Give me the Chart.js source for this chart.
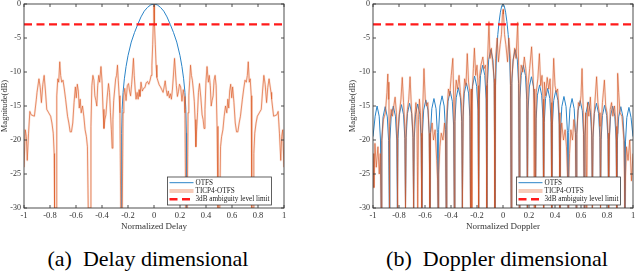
<!DOCTYPE html>
<html>
<head>
<meta charset="utf-8">
<script src="https://cdn.jsdelivr.net/npm/chart.js@4/dist/chart.umd.min.js"></script>
<style>
  html, body { margin: 0; padding: 0; background: #fff; }
  body { width: 636px; height: 276px; position: relative; overflow: hidden; font-family: "Liberation Serif", "Times New Roman", serif; }
  canvas { position: absolute; top: 0; }
  #c1 { left: 0; }
  #c2 { left: 318px; }
  .cap { position: absolute; top: 248px; font-family: "Liberation Serif", "Times New Roman", "DejaVu Serif", serif; font-size: 22px; line-height: 22px; color: #000; white-space: nowrap; transform: translateX(-50%); }
</style>
</head>
<body>
<canvas id="c1" width="318" height="240"></canvas>
<canvas id="c2" width="318" height="240"></canvas>
<div class="cap" style="left:148px">(a)&nbsp; Delay dimensional</div>
<div class="cap" style="left:497px">(b)&nbsp; Doppler dimensional</div>
<script>
// ---------------- data ----------------
const seriesNames = ['OTFS', 'TICP4-OTFS', '3dB ambiguity level limit'];
const xTitles = ['Normalized Delay', 'Normalized Doppler'];
const yTitle = 'Magnitude(dB)';
const xTicks = [-1, -0.8, -0.6, -0.4, -0.2, 0, 0.2, 0.4, 0.6, 0.8, 1];
const xTickLabels = ['-1', '-0.8', '-0.6', '-0.4', '-0.2', '0', '0.2', '0.4', '0.6', '0.8', '1'];
const yTicks = [-30, -25, -20, -15, -10, -5, 0];
const yTickLabels = ['-30', '-25', '-20', '-15', '-10', '-5', '0'];
const limitLine = [[-1, -3], [1, -3]];

// (a) Delay: OTFS
const delayOtfs = [
  [-0.2505,-30],[-0.249,-19],[-0.245,-15.5],[-0.238,-13],[-0.228,-11],[-0.215,-9.2],[-0.2,-7.6],
  [-0.175,-5.6],[-0.15,-4.2],[-0.125,-3.0],[-0.1,-1.9],[-0.075,-1.05],[-0.05,-0.5],[-0.025,-0.13],[0,0],
  [0.025,-0.13],[0.05,-0.5],[0.075,-1.05],[0.1,-1.9],[0.125,-3.0],[0.15,-4.2],[0.175,-5.6],[0.2,-7.6],
  [0.215,-9.2],[0.228,-11],[0.238,-13],[0.245,-15.5],[0.249,-19],[0.2505,-30]
];
// (a) Delay: TICP4-OTFS
const delayTicp = [
  [-1,-24],[-0.99,-18.5],[-0.982,-19.5],[-0.975,-23],[-0.965,-19],[-0.955,-15.8],[-0.945,-16.3],[-0.92,-16.5],
  [-0.905,-14],[-0.9,-13],[-0.885,-11],[-0.875,-12.3],[-0.866,-14.5],[-0.855,-11.8],[-0.845,-10.5],[-0.835,-12.8],
  [-0.825,-15.5],[-0.81,-16],[-0.795,-16.5],[-0.785,-17.5],[-0.775,-19],[-0.768,-22],[-0.765,-30],[-0.752,-30],
  [-0.748,-13.5],[-0.74,-11],[-0.733,-11.5],[-0.725,-8.5],[-0.718,-10.5],[-0.71,-11.5],[-0.7,-11.2],[-0.69,-12.5],
  [-0.68,-14],[-0.665,-16.5],[-0.655,-17.5],[-0.645,-18.8],[-0.635,-18.8],[-0.625,-17.5],[-0.615,-14.5],[-0.605,-12.2],
  [-0.598,-13.8],[-0.59,-11.8],[-0.582,-12.8],[-0.575,-15.3],[-0.568,-14],[-0.56,-16],[-0.55,-15],[-0.54,-16.5],
  [-0.53,-18.5],[-0.52,-19.5],[-0.512,-21],[-0.506,-30],[-0.492,-30],[-0.485,-18],[-0.478,-12],[-0.47,-10.5],
  [-0.462,-11.2],[-0.455,-13.5],[-0.447,-14.2],[-0.44,-15],[-0.433,-12],[-0.425,-10.5],[-0.418,-11.5],[-0.408,-9.2],
  [-0.4,-11.3],[-0.392,-15.5],[-0.385,-18.3],[-0.378,-17],[-0.37,-16.3],[-0.36,-13.7],[-0.35,-11.7],[-0.342,-13],
  [-0.335,-16],[-0.328,-18.5],[-0.322,-21.2],[-0.316,-17],[-0.31,-14.2],[-0.302,-12.5],[-0.295,-11],[-0.288,-10.5],
  [-0.281,-9],[-0.275,-11.2],[-0.268,-13.5],[-0.262,-16],[-0.256,-30],[-0.244,-30],[-0.238,-16],[-0.232,-13.5],
  [-0.225,-12.4],[-0.215,-14.2],[-0.205,-12],[-0.196,-11.7],[-0.188,-12.8],[-0.18,-13.5],[-0.172,-11.8],[-0.165,-10],
  [-0.158,-8],[-0.152,-10.5],[-0.145,-12.5],[-0.138,-14],[-0.13,-13],[-0.122,-14],[-0.115,-12.6],[-0.108,-13.6],
  [-0.1,-11.5],[-0.09,-12.8],[-0.08,-12.4],[-0.07,-12.3],[-0.06,-11.6],[-0.05,-11.4],[-0.04,-11.8],[-0.03,-11.2],
  [-0.022,-10.5],[-0.016,-9],[-0.01,-6],[-0.006,-3.2],[-0.002,-0.8],[0,-0.1],
  [0.002,-0.8],[0.006,-3.2],[0.01,-6],[0.016,-9],[0.022,-10.8],[0.03,-11.3],[0.04,-11.9],[0.05,-12.2],
  [0.06,-12.6],[0.07,-13],[0.078,-12.2],[0.086,-11.3],[0.094,-12.6],[0.102,-13.5],[0.11,-12.8],[0.118,-13.8],
  [0.126,-13.2],[0.134,-14],[0.142,-12.5],[0.15,-10.3],[0.158,-8],[0.165,-10],[0.172,-12],[0.18,-13.6],
  [0.188,-12.9],[0.196,-11.8],[0.205,-12.2],[0.215,-14.3],[0.225,-12.6],[0.232,-13.6],[0.238,-16],[0.244,-30],
  [0.256,-30],[0.262,-16],[0.268,-13.4],[0.275,-11.2],[0.281,-9],[0.288,-10.5],[0.295,-11.2],[0.302,-12.5],
  [0.31,-14.3],[0.316,-17],[0.322,-21],[0.328,-18.5],[0.335,-16],[0.342,-13],[0.35,-11.7],[0.36,-13.7],
  [0.37,-16.3],[0.378,-17],[0.385,-18.3],[0.392,-15.5],[0.4,-11.3],[0.408,-9.2],[0.418,-11.5],[0.425,-10.5],
  [0.433,-12],[0.44,-15],[0.447,-14.2],[0.455,-13.5],[0.462,-11.2],[0.47,-10.5],[0.478,-12],[0.485,-18],
  [0.492,-30],[0.506,-30],[0.512,-21],[0.52,-19.5],[0.53,-18.5],[0.54,-16.5],[0.55,-15],[0.56,-16],
  [0.568,-14],[0.575,-15.3],[0.582,-12.8],[0.59,-11.8],[0.598,-13.8],[0.605,-12.2],[0.615,-14.5],[0.625,-17.5],
  [0.635,-18.8],[0.645,-18.8],[0.655,-17.5],[0.665,-16.5],[0.68,-14],[0.69,-12.5],[0.7,-11.2],[0.71,-11.5],
  [0.718,-10.5],[0.725,-8.5],[0.733,-11.5],[0.74,-11],[0.748,-13.5],[0.752,-30],[0.765,-30],[0.768,-22],
  [0.775,-19],[0.785,-17.5],[0.795,-16.5],[0.81,-16],[0.825,-15.5],[0.835,-12.8],[0.845,-10.5],[0.855,-11.8],
  [0.866,-14.5],[0.875,-12.3],[0.885,-11],[0.9,-13],[0.905,-14],[0.92,-16.5],[0.945,-16.3],[0.955,-15.8],
  [0.965,-19],[0.975,-23],[0.982,-19.5],[0.99,-18.5],[1,-24]
];

// (b) Doppler: OTFS
const dopplerOtfs = [
  [-1,-19.5],[-0.9835,-16.5],[-0.96875,-15],[-0.9525,-16.5],[-0.9425,-20],[-0.9375,-30],
  [-0.9325,-20.1],[-0.9225,-16.6],[-0.90625,-15.1],[-0.89,-16.6],[-0.88,-20.1],[-0.875,-30],
  [-0.87,-20],[-0.86,-16.5],[-0.84375,-15],[-0.8275,-16.5],[-0.8175,-20],[-0.8125,-30],
  [-0.8075,-19.8],[-0.7975,-16.3],[-0.78125,-14.8],[-0.765,-16.3],[-0.755,-19.8],[-0.75,-30],
  [-0.745,-19.6],[-0.735,-16.1],[-0.71875,-14.6],[-0.7025,-16.1],[-0.6925,-19.6],[-0.6875,-30],
  [-0.6825,-19.7],[-0.6725,-16.2],[-0.65625,-14.7],[-0.64,-16.2],[-0.63,-19.7],[-0.625,-30],
  [-0.62,-19.1],[-0.61,-15.6],[-0.59375,-14.1],[-0.5775,-15.6],[-0.5675,-19.1],[-0.5625,-30],
  [-0.5575,-18.9],[-0.5475,-15.4],[-0.53125,-13.9],[-0.515,-15.4],[-0.505,-18.9],[-0.5,-30],
  [-0.495,-18.5],[-0.485,-15],[-0.46875,-13.5],[-0.4525,-15],[-0.4425,-18.5],[-0.4375,-30],
  [-0.4325,-17.8],[-0.4225,-14.3],[-0.40625,-12.8],[-0.39,-14.3],[-0.38,-17.8],[-0.375,-30],
  [-0.37,-17.3],[-0.36,-13.8],[-0.34375,-12.3],[-0.3275,-13.8],[-0.3175,-17.3],[-0.3125,-30],
  [-0.3075,-16.6],[-0.2975,-13.1],[-0.28125,-11.6],[-0.265,-13.1],[-0.255,-16.6],[-0.25,-30],
  [-0.245,-15.6],[-0.235,-12.1],[-0.21875,-10.6],[-0.2025,-12.1],[-0.1925,-15.6],[-0.1875,-30],
  [-0.1825,-14],[-0.1725,-10.5],[-0.15625,-9],[-0.14,-10.5],[-0.13,-14],[-0.125,-30],
  [-0.12,-11.7],[-0.11,-8.2],[-0.09375,-6.7],[-0.0775,-8.2],[-0.0675,-11.7],[-0.0625,-30],
  [-0.0575,-12],[-0.05,-7.5],[-0.04,-4.5],[-0.03,-2.6],[-0.02,-1.2],[-0.01,-0.3],[0,0],
  [0.01,-0.3],[0.02,-1.2],[0.03,-2.6],[0.04,-4.5],[0.05,-7.5],[0.0575,-12],[0.0625,-30],
  [0.0675,-11.7],[0.0775,-8.2],[0.09375,-6.7],[0.11,-8.2],[0.12,-11.7],[0.125,-30],
  [0.13,-14],[0.14,-10.5],[0.15625,-9],[0.1725,-10.5],[0.1825,-14],[0.1875,-30],
  [0.1925,-15.7],[0.2025,-12.2],[0.21875,-10.7],[0.235,-12.2],[0.245,-15.7],[0.25,-30],
  [0.255,-16.9],[0.265,-13.4],[0.28125,-11.9],[0.2975,-13.4],[0.3075,-16.9],[0.3125,-30],
  [0.3175,-17.4],[0.3275,-13.9],[0.34375,-12.4],[0.36,-13.9],[0.37,-17.4],[0.375,-30],
  [0.38,-17.7],[0.39,-14.2],[0.40625,-12.7],[0.4225,-14.2],[0.4325,-17.7],[0.4375,-30],
  [0.4425,-18.6],[0.4525,-15.1],[0.46875,-13.6],[0.485,-15.1],[0.495,-18.6],[0.5,-30],
  [0.505,-18.9],[0.515,-15.4],[0.53125,-13.9],[0.5475,-15.4],[0.5575,-18.9],[0.5625,-30],
  [0.5675,-19.2],[0.5775,-15.7],[0.59375,-14.2],[0.61,-15.7],[0.62,-19.2],[0.625,-30],
  [0.63,-19.4],[0.64,-15.9],[0.65625,-14.4],[0.6725,-15.9],[0.6825,-19.4],[0.6875,-30],
  [0.6925,-19.6],[0.7025,-16.1],[0.71875,-14.6],[0.735,-16.1],[0.745,-19.6],[0.75,-30],
  [0.755,-19.9],[0.765,-16.4],[0.78125,-14.9],[0.7975,-16.4],[0.8075,-19.9],[0.8125,-30],
  [0.8175,-20],[0.8275,-16.5],[0.84375,-15],[0.86,-16.5],[0.87,-20],[0.875,-30],
  [0.88,-20.1],[0.89,-16.6],[0.90625,-15.1],[0.9225,-16.6],[0.9325,-20.1],[0.9375,-30],
  [0.9425,-20.2],[0.9525,-16.7],[0.96875,-15.2],[0.985,-16.7],[1,-19.5]
];
// (b) Doppler: TICP4-OTFS
const dopplerTicp = [
  [-1,-22],[-0.993,-27],[-0.985,-20.5],[-0.975,-24],[-0.962,-21],[-0.952,-25],[-0.944,-22],[-0.9375,-30],
  [-0.932,-20],[-0.92,-17],[-0.905,-16],[-0.893,-13],[-0.886,-10.3],[-0.882,-14],[-0.878,-11.5],[-0.876,-19],[-0.875,-30],
  [-0.87,-18],[-0.86,-15.5],[-0.85,-16.5],[-0.84,-15],[-0.83,-13.7],[-0.82,-16],[-0.815,-20],[-0.8125,-30],
  [-0.808,-19],[-0.797,-16],[-0.785,-14],[-0.775,-10.8],[-0.765,-14.5],[-0.755,-18],[-0.75,-30],
  [-0.745,-18],[-0.735,-15.5],[-0.725,-14],[-0.715,-10.7],[-0.705,-15],[-0.693,-19],[-0.6875,-30],
  [-0.683,-18],[-0.67,-14.5],[-0.662,-16.5],[-0.656,-30],[-0.65,-17],[-0.643,-14],[-0.635,-16],[-0.63,-19],[-0.625,-30],
  [-0.62,-17],[-0.608,-9.5],[-0.598,-14],[-0.588,-15],[-0.578,-14.5],[-0.568,-19],[-0.5625,-30],
  [-0.557,-19],[-0.545,-17.5],[-0.535,-20],[-0.522,-18.5],[-0.51,-23],[-0.503,-26],[-0.5,-30],
  [-0.495,-25],[-0.485,-21],[-0.475,-19],[-0.462,-20],[-0.45,-17.5],[-0.442,-20],[-0.4375,-30],
  [-0.432,-16],[-0.42,-12.5],[-0.41,-13.5],[-0.398,-10.5],[-0.386,-8],[-0.379,-14],[-0.375,-30],
  [-0.37,-14],[-0.36,-11.2],[-0.35,-12.5],[-0.338,-10.5],[-0.328,-13],[-0.318,-15],[-0.3125,-30],
  [-0.305,-14],[-0.295,-11],[-0.285,-12],[-0.275,-7.3],[-0.265,-11.5],[-0.255,-13],[-0.25,-30],
  [-0.245,-12.5],[-0.24,-30],[-0.236,-13],[-0.228,-9.5],[-0.22,-6.5],[-0.21,-10.5],[-0.2,-9],[-0.192,-12],[-0.1875,-30],
  [-0.182,-11],[-0.17,-9],[-0.155,-7.8],[-0.145,-9.5],[-0.135,-9],[-0.128,-12],[-0.125,-30],
  [-0.12,-9],[-0.108,-2.6],[-0.1,-8],[-0.09,-6.5],[-0.078,-9],[-0.068,-11],[-0.0625,-30],
  [-0.057,-8],[-0.045,-5],[-0.035,-8.5],[-0.022,-6],[-0.012,-4.5],[-0.004,-1.5],[0,-0.8],
  [0.004,-1.5],[0.012,-4.5],[0.022,-6],[0.035,-8.5],[0.045,-5],[0.057,-8],[0.0625,-30],
  [0.068,-11],[0.078,-8.5],[0.09,-6.5],[0.1,-8],[0.113,-2.7],[0.12,-9],[0.125,-30],
  [0.13,-12],[0.14,-9],[0.152,-10],[0.164,-7.8],[0.175,-9.5],[0.183,-11.5],[0.1875,-30],
  [0.193,-12],[0.205,-9.5],[0.22,-6.3],[0.23,-10],[0.236,-13],[0.24,-30],[0.244,-12.5],[0.25,-30],
  [0.256,-13],[0.268,-11],[0.28,-7.3],[0.29,-12],[0.3,-10.5],[0.308,-14],[0.3125,-30],
  [0.318,-11.5],[0.328,-13.5],[0.34,-10.8],[0.352,-12.5],[0.362,-11],[0.37,-14.5],[0.375,-30],
  [0.38,-14],[0.39,-8],[0.4,-12],[0.41,-13],[0.42,-12.5],[0.432,-16],[0.4375,-30],
  [0.443,-20],[0.452,-17.5],[0.465,-20],[0.478,-18.5],[0.488,-21],[0.496,-25],[0.5,-30],
  [0.505,-26],[0.512,-22],[0.522,-18.5],[0.535,-20],[0.545,-17],[0.557,-19],[0.5625,-30],
  [0.568,-19],[0.58,-14.5],[0.59,-15],[0.6,-13.5],[0.608,-9.5],[0.618,-16],[0.625,-30],
  [0.63,-19],[0.636,-16],[0.644,-30],[0.65,-14.5],[0.66,-16.5],[0.672,-13.7],[0.682,-18],[0.6875,-30],
  [0.693,-19],[0.705,-15],[0.72,-10.7],[0.73,-14.5],[0.74,-16],[0.746,-18],[0.75,-30],
  [0.755,-18],[0.765,-14.5],[0.78,-11.2],[0.79,-15],[0.8,-16],[0.808,-19],[0.8125,-30],
  [0.818,-20],[0.825,-15.5],[0.835,-14.5],[0.845,-16.5],[0.858,-15],[0.87,-18],[0.875,-30],
  [0.877,-19],[0.88,-11.5],[0.884,-10.2],[0.89,-13],[0.9,-16],[0.915,-16.5],[0.93,-20],[0.9375,-30],
  [0.943,-25],[0.95,-21],[0.962,-23],[0.975,-20],[0.988,-26],[1,-22]
];

// ---------------- rendering ----------------
const FONT = '"Liberation Serif", "Times New Roman", serif';
const TEXT = '#333333';
const AXIS = '#3a3a3a';
const toXY = pts => pts.map(p => ({x: p[0], y: p[1]}));

// MATLAB-like box with inward ticks on all four sides
const boxAxes = {
  id: 'boxAxes',
  afterDatasetsDraw(chart) {
    const {ctx, chartArea: a, scales: {x, y}} = chart;
    ctx.save();
    ctx.strokeStyle = AXIS;
    ctx.lineWidth = 0.9;
    ctx.strokeRect(a.left, a.top, a.right - a.left, a.bottom - a.top);
    ctx.beginPath();
    const tl = 3;
    xTicks.forEach(v => {
      const px = x.getPixelForValue(v);
      ctx.moveTo(px, a.bottom); ctx.lineTo(px, a.bottom - tl);
      ctx.moveTo(px, a.top); ctx.lineTo(px, a.top + tl);
    });
    yTicks.forEach(v => {
      const py = y.getPixelForValue(v);
      ctx.moveTo(a.left, py); ctx.lineTo(a.left + tl, py);
      ctx.moveTo(a.right, py); ctx.lineTo(a.right - tl, py);
    });
    ctx.stroke();
    ctx.restore();
  }
};

// boxed legend in the lower right corner of the plot area
const boxLegend = {
  id: 'boxLegend',
  afterDraw(chart) {
    const {ctx, chartArea: a} = chart;
    const items = chart.data.datasets.filter(d => d.legendRank !== undefined)
      .sort((p, q) => p.legendRank - q.legendRank);
    const w = 104, h = 28;
    const x0 = a.right - 12.5 - w, y0 = a.bottom - 3 - h;
    ctx.save();
    ctx.fillStyle = '#fff';
    ctx.fillRect(x0, y0, w, h);
    ctx.strokeStyle = AXIS;
    ctx.lineWidth = 0.8;
    ctx.strokeRect(x0, y0, w, h);
    ctx.font = '7.2px ' + FONT;
    ctx.textBaseline = 'middle';
    ctx.fillStyle = '#222';
    items.forEach((d, i) => {
      const yy = y0 + 5.7 + i * 8.3;
      ctx.beginPath();
      ctx.strokeStyle = d.legendColor || d.borderColor;
      ctx.lineWidth = d.legendWidth || d.borderWidth;
      ctx.setLineDash(d.borderDash || []);
      ctx.moveTo(x0 + 2, yy);
      ctx.lineTo(x0 + 26, yy);
      ctx.stroke();
      ctx.setLineDash([]);
      ctx.fillText(d.label, x0 + 28, yy + 0.3);
    });
    ctx.restore();
  }
};

function makeChart(id, otfs, ticp, xTitle, padLeft, padRight, yWidth, core, halo) {
  return new Chart(document.getElementById(id), {
    type: 'line',
    data: {
      datasets: [
        { label: seriesNames[2], data: toXY(limitLine), borderColor: '#ff1a1a', borderWidth: 2.4,
          borderDash: [8, 4.5], order: 0, legendRank: 2 },
        { label: seriesNames[1] + ' ', data: toXY(ticp), borderColor: core, borderWidth: 0.9, order: 1 },
        { label: seriesNames[1], data: toXY(ticp), borderColor: halo, borderWidth: 2.2, order: 2,
          legendRank: 1, legendColor: 'rgba(236,140,100,0.45)', legendWidth: 4 },
        { label: seriesNames[0], data: toXY(otfs), borderColor: '#2a84c8', borderWidth: 1, order: 3, legendRank: 0 }
      ]
    },
    options: {
      responsive: false,
      animation: false,
      events: [],
      elements: { point: { radius: 0 }, line: { tension: 0, borderJoinStyle: 'round' } },
      layout: { padding: { left: padLeft, right: padRight, top: 4, bottom: 0 } },
      plugins: { legend: { display: false }, tooltip: { enabled: false } },
      scales: {
        x: {
          type: 'linear', min: -1, max: 1,
          grid: { display: false, drawTicks: false }, border: { display: false },
          afterBuildTicks: s => { s.ticks = xTicks.map(v => ({ value: v })); },
          afterFit: s => { s.height = 32; s.paddingLeft = 0; s.paddingRight = 0; },
          ticks: { callback: (v, i) => xTickLabels[i], font: { family: FONT, size: 8.5 }, color: TEXT,
                   padding: 2.5, maxRotation: 0, autoSkip: false },
          title: { display: true, text: xTitle, font: { family: FONT, size: 9 }, color: TEXT,
                   padding: { top: 0, bottom: 8 } }
        },
        y: {
          type: 'linear', min: -30, max: 0,
          grid: { display: false, drawTicks: false }, border: { display: false },
          afterBuildTicks: s => { s.ticks = yTicks.map(v => ({ value: v })); },
          afterFit: s => { s.width = yWidth; s.paddingTop = 0; s.paddingBottom = 0; },
          ticks: { callback: (v, i) => yTickLabels[i], font: { family: FONT, size: 8 }, color: TEXT,
                   padding: 3, autoSkip: false },
          title: { display: true, text: yTitle, font: { family: FONT, size: 8.5 }, color: TEXT,
                   padding: { top: 0, bottom: 0 } }
        }
      }
    },
    plugins: [boxAxes, boxLegend]
  });
}

makeChart('c1', delayOtfs, delayTicp, xTitles[0], 0, 34, 24, 'rgba(220,95,45,0.75)', 'rgba(236,140,100,0.22)');
makeChart('c2', dopplerOtfs, dopplerTicp, xTitles[1], 30, 3, 25, 'rgba(210,85,35,0.7)', 'rgba(236,140,100,0.22)');
</script>
</body>
</html>
